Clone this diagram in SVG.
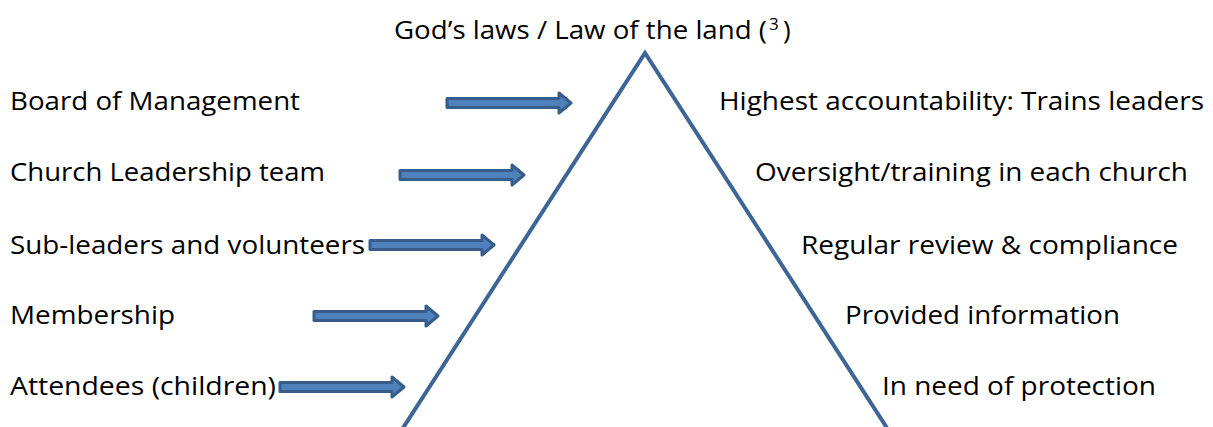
<svg xmlns="http://www.w3.org/2000/svg" width="1213" height="427" viewBox="0 0 1213 427">
<style>
text{font-family:"Open Sans","Noto Sans",sans-serif;font-size:26px;fill:#000}
.sup{font-size:17px}
.arrow{fill:#4F81BD;stroke:#385D8A;stroke-width:3;stroke-linejoin:round}
.tri{fill:none;stroke:#3E6597;stroke-width:4;stroke-linejoin:miter}
</style>
<defs>
<path id="arr" d="M0,-4.5 H112 V-10 L124,0 L112,10 V4.5 H0 Z"/>
</defs>
<rect width="1213" height="427" fill="#fff"/>
<g id="title">
<text x="394" y="39" textLength="373" lengthAdjust="spacingAndGlyphs">God’s laws / Law of the land (</text>
<text class="sup" x="769" y="30">3</text>
<text x="783" y="39">)</text>
</g>
<g id="pyramid">
<path class="tri" d="M392,445 L645,53 L898,445"/>
</g>
<g id="left-labels">
<g id="l1"><text x="10" y="109.5" textLength="290" lengthAdjust="spacingAndGlyphs">Board of Management</text></g>
<g id="l2"><text x="10" y="180.7" textLength="315" lengthAdjust="spacingAndGlyphs">Church Leadership team</text></g>
<g id="l3"><text x="10" y="253.5" textLength="355" lengthAdjust="spacingAndGlyphs">Sub-leaders and volunteers</text></g>
<g id="l4"><text x="10" y="324" textLength="165" lengthAdjust="spacingAndGlyphs">Membership</text></g>
<g id="l5"><text x="10" y="395" textLength="266" lengthAdjust="spacingAndGlyphs">Attendees (children)</text></g>
</g>
<g id="right-labels">
<g id="r1"><text x="719" y="109.5" textLength="485" lengthAdjust="spacingAndGlyphs">Highest accountability: Trains leaders</text></g>
<g id="r2"><text x="755" y="180.7" textLength="433" lengthAdjust="spacingAndGlyphs">Oversight/training in each church</text></g>
<g id="r3"><text x="801" y="253.5" textLength="377" lengthAdjust="spacingAndGlyphs">Regular review &amp; compliance</text></g>
<g id="r4"><text x="845" y="324" textLength="275" lengthAdjust="spacingAndGlyphs">Provided information</text></g>
<g id="r5"><text x="882" y="395" textLength="274" lengthAdjust="spacingAndGlyphs">In need of protection</text></g>
</g>
<g id="connectors">
<use href="#arr" class="arrow" transform="translate(447,103)"/>
<use href="#arr" class="arrow" transform="translate(400,175)"/>
<use href="#arr" class="arrow" transform="translate(370,245)"/>
<use href="#arr" class="arrow" transform="translate(314,316)"/>
<use href="#arr" class="arrow" transform="translate(280,387)"/>
</g>
</svg>
